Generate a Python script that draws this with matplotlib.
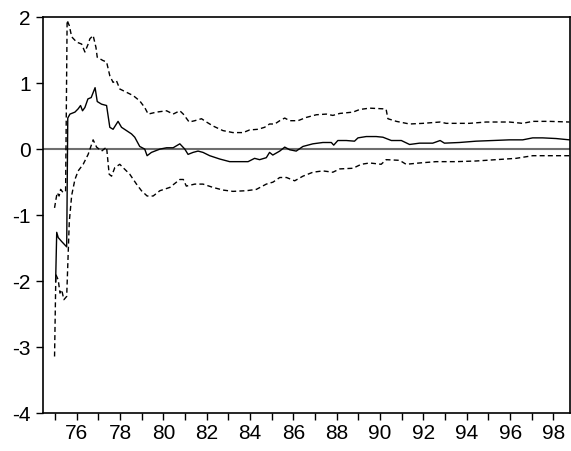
import numpy as np
import matplotlib
matplotlib.use("Agg")
import matplotlib.pyplot as plt

plt.rcParams['font.family'] = ['Liberation Sans', 'DejaVu Sans']

# recursive coefficient estimate (years as decimals, 75 = 1975)
coef_t = [75.03, 75.08, 75.15, 75.31, 75.54, 75.59, 75.69, 75.92, 76.07, 76.18,
          76.27, 76.38, 76.52, 76.67, 76.85, 76.95, 77.15, 77.38, 77.53, 77.68,
          77.91, 78.07, 78.30, 78.53, 78.68, 78.91, 79.14, 79.25, 79.45, 79.84,
          80.15, 80.45, 80.76, 80.99, 81.14, 81.37, 81.60, 81.83, 82.14, 82.60,
          83.06, 83.52, 83.91, 84.21, 84.44, 84.75, 84.90, 85.05, 85.37, 85.60,
          85.83, 86.13, 86.44, 86.90, 87.36, 87.75, 87.86, 88.05, 88.44, 88.82,
          88.98, 89.36, 89.82, 90.13, 90.52, 90.98, 91.36, 91.82, 92.43, 92.77,
          92.97, 93.66, 94.43, 95.20, 95.96, 96.58, 97.04, 97.50, 98.12, 98.74]
coef = [-2.00, -1.26, -1.34, -1.40, -1.48, 0.47, 0.53, 0.56, 0.61, 0.66,
        0.58, 0.63, 0.76, 0.78, 0.93, 0.72, 0.68, 0.66, 0.33, 0.30,
        0.42, 0.33, 0.28, 0.23, 0.18, 0.04, 0.00, -0.10, -0.05, 0.00,
        0.02, 0.02, 0.08, 0.00, -0.08, -0.05, -0.03, -0.05, -0.10, -0.15,
        -0.19, -0.19, -0.19, -0.14, -0.16, -0.13, -0.05, -0.09, -0.03, 0.03,
        -0.01, -0.03, 0.04, 0.08, 0.10, 0.10, 0.06, 0.13, 0.13, 0.12,
        0.17, 0.19, 0.19, 0.18, 0.13, 0.13, 0.07, 0.09, 0.09, 0.13,
        0.09, 0.10, 0.12, 0.13, 0.14, 0.14, 0.17, 0.17, 0.16, 0.14]

# +2 S.E. band
upper_t = [74.98, 75.04, 75.10, 75.19, 75.26, 75.38, 75.49, 75.56, 75.66, 75.77,
           76.00, 76.23, 76.38, 76.53, 76.61, 76.76, 76.89, 76.95, 77.22, 77.38,
           77.53, 77.68, 77.83, 77.99, 78.30, 78.61, 78.91, 79.14, 79.30, 79.68,
           80.15, 80.45, 80.76, 80.92, 81.19, 81.45, 81.76, 81.99, 82.29, 82.75,
           83.21, 83.68, 83.98, 84.37, 84.67, 84.90, 85.14, 85.37, 85.60, 85.83,
           86.21, 86.60, 87.06, 87.52, 87.82, 88.14, 88.75, 89.06, 89.52, 90.13,
           90.28, 90.36, 90.75, 91.36, 91.98, 92.77, 93.05, 94.12, 94.89, 95.96,
           96.58, 97.04, 97.81, 98.74]
upper = [-0.89, -0.77, -0.66, -0.71, -0.61, -0.66, -0.63, 1.95, 1.87, 1.70,
         1.62, 1.59, 1.47, 1.59, 1.67, 1.72, 1.54, 1.39, 1.34, 1.32,
         1.11, 1.01, 1.04, 0.91, 0.86, 0.81, 0.73, 0.63, 0.53, 0.56,
         0.58, 0.53, 0.58, 0.53, 0.41, 0.43, 0.46, 0.41, 0.35, 0.28,
         0.25, 0.25, 0.29, 0.30, 0.33, 0.38, 0.38, 0.43, 0.47, 0.43,
         0.43, 0.48, 0.52, 0.53, 0.51, 0.54, 0.56, 0.60, 0.62, 0.61,
         0.60, 0.46, 0.42, 0.38, 0.39, 0.41, 0.39, 0.39, 0.41, 0.41,
         0.39, 0.42, 0.42, 0.41]

# -2 S.E. band
lower_t = [74.98, 75.04, 75.15, 75.23, 75.31, 75.41, 75.54, 75.66, 75.77, 75.92,
           76.07, 76.30, 76.53, 76.76, 76.92, 77.15, 77.38, 77.50, 77.61, 77.76,
           77.99, 78.14, 78.45, 78.76, 78.99, 79.25, 79.53, 79.84, 80.30, 80.76,
           80.92, 81.06, 81.45, 81.83, 82.29, 82.75, 83.21, 83.83, 84.29, 84.75,
           85.06, 85.37, 85.68, 86.06, 86.44, 86.90, 87.36, 87.82, 88.14, 88.75,
           89.13, 89.52, 90.05, 90.28, 90.90, 91.20, 91.82, 92.58, 93.50, 94.43,
           95.35, 96.27, 97.04, 97.81, 98.74]
lower = [-3.14, -1.90, -1.98, -2.18, -2.13, -2.28, -2.23, -1.10, -0.70, -0.46,
         -0.33, -0.23, -0.08, 0.14, 0.03, -0.03, 0.03, -0.38, -0.41, -0.28,
         -0.23, -0.28, -0.38, -0.53, -0.63, -0.71, -0.71, -0.63, -0.58, -0.46,
         -0.46, -0.56, -0.53, -0.53, -0.58, -0.62, -0.64, -0.63, -0.61, -0.53,
         -0.50, -0.43, -0.43, -0.48, -0.41, -0.35, -0.33, -0.35, -0.30, -0.29,
         -0.23, -0.21, -0.23, -0.16, -0.17, -0.23, -0.21, -0.19, -0.19, -0.18,
         -0.16, -0.14, -0.10, -0.10, -0.10]

years = list(range(75, 99))
year_labels = [str(y) if y % 2 == 0 else '' for y in years]
yticks = [2, 1, 0, -1, -2, -3, -4]

fig = plt.figure(figsize=(5.71, 4.51), dpi=100)
ax = fig.add_axes([0.0758, 0.0836, 0.9216, 0.8787])

ax.axhline(0, color='#6e6e6e', lw=1.5, zorder=1)
ax.plot(coef_t, coef, color='black', lw=1.0)
ax.plot(upper_t, upper, color='black', lw=1.0, dashes=(3.6, 2.3))
ax.plot(lower_t, lower, color='black', lw=1.0, dashes=(3.6, 2.3))

ax.set_xlim(74.46, 98.74)
ax.set_ylim(-4, 2)
ax.set_xticks(years)
ax.set_xticklabels(year_labels)
ax.set_yticks(yticks)
ax.set_yticklabels([str(v) for v in yticks])
ax.tick_params(direction='out', length=5, width=1, labelsize=15)
ax.tick_params(axis='x', pad=3)
ax.tick_params(axis='y', pad=4)

for s in ax.spines.values():
    s.set_linewidth(1.2)

fig.savefig('out.png', dpi=100)
